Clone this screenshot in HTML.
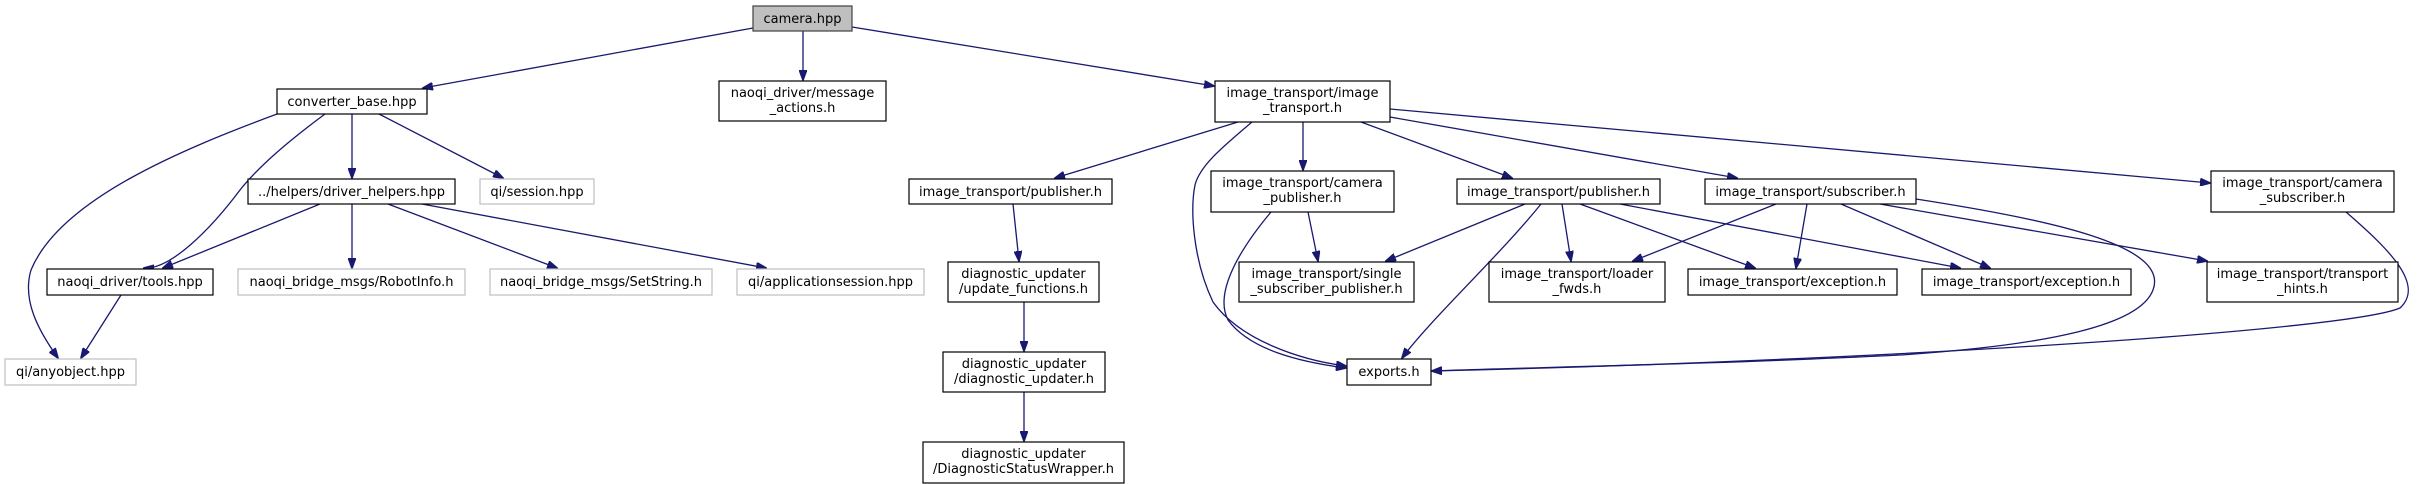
<!DOCTYPE html>
<html><head><meta charset="utf-8"><style>
html,body{margin:0;padding:0;background:#fff;}
svg{display:block;}
text{font-family:"DejaVu Sans","Liberation Sans",sans-serif;font-size:13px;fill:#000;}
.n{fill:#fff;stroke:#000;stroke-width:1.2;}
.g{fill:#fff;stroke:#bfbfbf;stroke-width:1.2;}
.e{fill:none;stroke:#191970;stroke-width:1.3;marker-end:url(#a);}
</style></head><body>
<svg width="2425" height="484" viewBox="0 0 2425 484" xmlns="http://www.w3.org/2000/svg">
<defs><marker id="a" markerWidth="11" markerHeight="8" refX="10" refY="4" orient="auto" markerUnits="userSpaceOnUse"><path d="M0,0 L11,4 L0,8 z" fill="#191970" stroke="#191970"/></marker></defs>

<!-- edges -->
<path class="e" d="M753,28 L423,88"/>
<path class="e" d="M803,31 L803,80"/>
<path class="e" d="M852,27 L1214,86"/>
<path class="e" d="M277,114 C180,150 60,200 31,270 C22,300 38,330 58,358"/>
<path class="e" d="M325,114 C290,140 260,165 240,190 C210,230 170,270 144,268"/>
<path class="e" d="M352,114 L352,178"/>
<path class="e" d="M379,114 L503,178"/>
<path class="e" d="M320,204 L163,268"/>
<path class="e" d="M352,204 L352,268"/>
<path class="e" d="M388,204 L557,268"/>
<path class="e" d="M422,204 L766,268"/>
<path class="e" d="M121,295 L81,358"/>
<path class="e" d="M1238,122 L1055,178"/>
<path class="e" d="M1252,122 C1225,145 1200,165 1195,185 C1190,210 1193,260 1213,302 C1240,340 1300,360 1346,366"/>
<path class="e" d="M1303,122 L1303,170"/>
<path class="e" d="M1361,122 L1512,178"/>
<path class="e" d="M1390,117 L1737,178"/>
<path class="e" d="M1390,109 L2210,183"/>
<path class="e" d="M1013,204 L1019,261"/>
<path class="e" d="M1024,302 L1024,351"/>
<path class="e" d="M1024,392 L1024,441"/>
<path class="e" d="M1308,212 L1318,261"/>
<path class="e" d="M1271,212 C1235,255 1215,295 1228,320 C1250,350 1300,362 1346,368"/>
<path class="e" d="M1525,204 L1386,261"/>
<path class="e" d="M1541,204 C1500,255 1430,320 1402,358"/>
<path class="e" d="M1562,204 L1571,261"/>
<path class="e" d="M1580,204 L1755,268"/>
<path class="e" d="M1620,204 L1960,268"/>
<path class="e" d="M1776,204 L1633,261"/>
<path class="e" d="M1807,204 L1796,268"/>
<path class="e" d="M1841,204 L1990,268"/>
<path class="e" d="M1880,204 L2207,261"/>
<path class="e" d="M1916,199 C2050,220 2170,245 2153,290 C2140,325 2050,345 1900,355 C1700,365 1500,368 1432,371"/>
<path class="e" d="M2346,212 C2390,250 2425,285 2400,308 C2350,330 1900,360 1432,371"/>

<!-- nodes -->
<rect x="753" y="6" width="99" height="25" fill="#bfbfbf" stroke="#404040" stroke-width="1.2"/>
<text x="802.5" y="23" text-anchor="middle">camera.hpp</text>

<rect class="n" x="277" y="89" width="150" height="25"/><text x="352" y="106" text-anchor="middle">converter_base.hpp</text>
<rect class="n" x="719" y="81" width="167" height="40"/><text x="802.5" y="97" text-anchor="middle">naoqi_driver/message</text><text x="802.5" y="112" text-anchor="middle">_actions.h</text>
<rect class="n" x="1215" y="81" width="175" height="41"/><text x="1302.5" y="97" text-anchor="middle">image_transport/image</text><text x="1302.5" y="112" text-anchor="middle">_transport.h</text>

<rect class="n" x="248" y="179" width="207" height="25"/><text x="351.5" y="196" text-anchor="middle">../helpers/driver_helpers.hpp</text>
<rect class="g" x="480" y="179" width="114" height="25"/><text x="537" y="196" text-anchor="middle">qi/session.hpp</text>
<rect class="n" x="909" y="179" width="203" height="25"/><text x="1010.5" y="196" text-anchor="middle">image_transport/publisher.h</text>
<rect class="n" x="1211" y="171" width="183" height="41"/><text x="1302.5" y="187" text-anchor="middle">image_transport/camera</text><text x="1302.5" y="202" text-anchor="middle">_publisher.h</text>
<rect class="n" x="1457" y="179" width="203" height="25"/><text x="1558.5" y="196" text-anchor="middle">image_transport/publisher.h</text>
<rect class="n" x="1705" y="179" width="211" height="25"/><text x="1810.5" y="196" text-anchor="middle">image_transport/subscriber.h</text>
<rect class="n" x="2211" y="171" width="183" height="41"/><text x="2302.5" y="187" text-anchor="middle">image_transport/camera</text><text x="2302.5" y="202" text-anchor="middle">_subscriber.h</text>

<rect class="n" x="47" y="269" width="166" height="26"/><text x="130" y="286" text-anchor="middle">naoqi_driver/tools.hpp</text>
<rect class="g" x="238" y="269" width="227" height="26"/><text x="351.5" y="286" text-anchor="middle">naoqi_bridge_msgs/RobotInfo.h</text>
<rect class="g" x="490" y="269" width="222" height="26"/><text x="601" y="286" text-anchor="middle">naoqi_bridge_msgs/SetString.h</text>
<rect class="g" x="737" y="269" width="187" height="26"/><text x="830.5" y="286" text-anchor="middle">qi/applicationsession.hpp</text>
<rect class="n" x="948" y="262" width="151" height="40"/><text x="1023.5" y="278" text-anchor="middle">diagnostic_updater</text><text x="1023.5" y="293" text-anchor="middle">/update_functions.h</text>
<rect class="n" x="1239" y="262" width="175" height="40"/><text x="1326.5" y="278" text-anchor="middle">image_transport/single</text><text x="1326.5" y="293" text-anchor="middle">_subscriber_publisher.h</text>
<rect class="n" x="1489" y="262" width="176" height="40"/><text x="1577" y="278" text-anchor="middle">image_transport/loader</text><text x="1577" y="293" text-anchor="middle">_fwds.h</text>
<rect class="n" x="1688" y="269" width="209" height="26"/><text x="1792.5" y="286" text-anchor="middle">image_transport/exception.h</text>
<rect class="n" x="1922" y="269" width="209" height="26"/><text x="2026.5" y="286" text-anchor="middle">image_transport/exception.h</text>
<rect class="n" x="2207" y="262" width="191" height="40"/><text x="2302.5" y="278" text-anchor="middle">image_transport/transport</text><text x="2302.5" y="293" text-anchor="middle">_hints.h</text>

<rect class="g" x="5" y="359" width="131" height="26"/><text x="70.5" y="376" text-anchor="middle">qi/anyobject.hpp</text>
<rect class="n" x="943" y="352" width="162" height="40"/><text x="1024" y="368" text-anchor="middle">diagnostic_updater</text><text x="1024" y="383" text-anchor="middle">/diagnostic_updater.h</text>
<rect class="n" x="1347" y="359" width="84" height="26"/><text x="1389" y="376" text-anchor="middle">exports.h</text>
<rect class="n" x="923" y="442" width="201" height="41"/><text x="1023.5" y="458" text-anchor="middle">diagnostic_updater</text><text x="1023.5" y="473" text-anchor="middle">/DiagnosticStatusWrapper.h</text>
</svg>
</body></html>
